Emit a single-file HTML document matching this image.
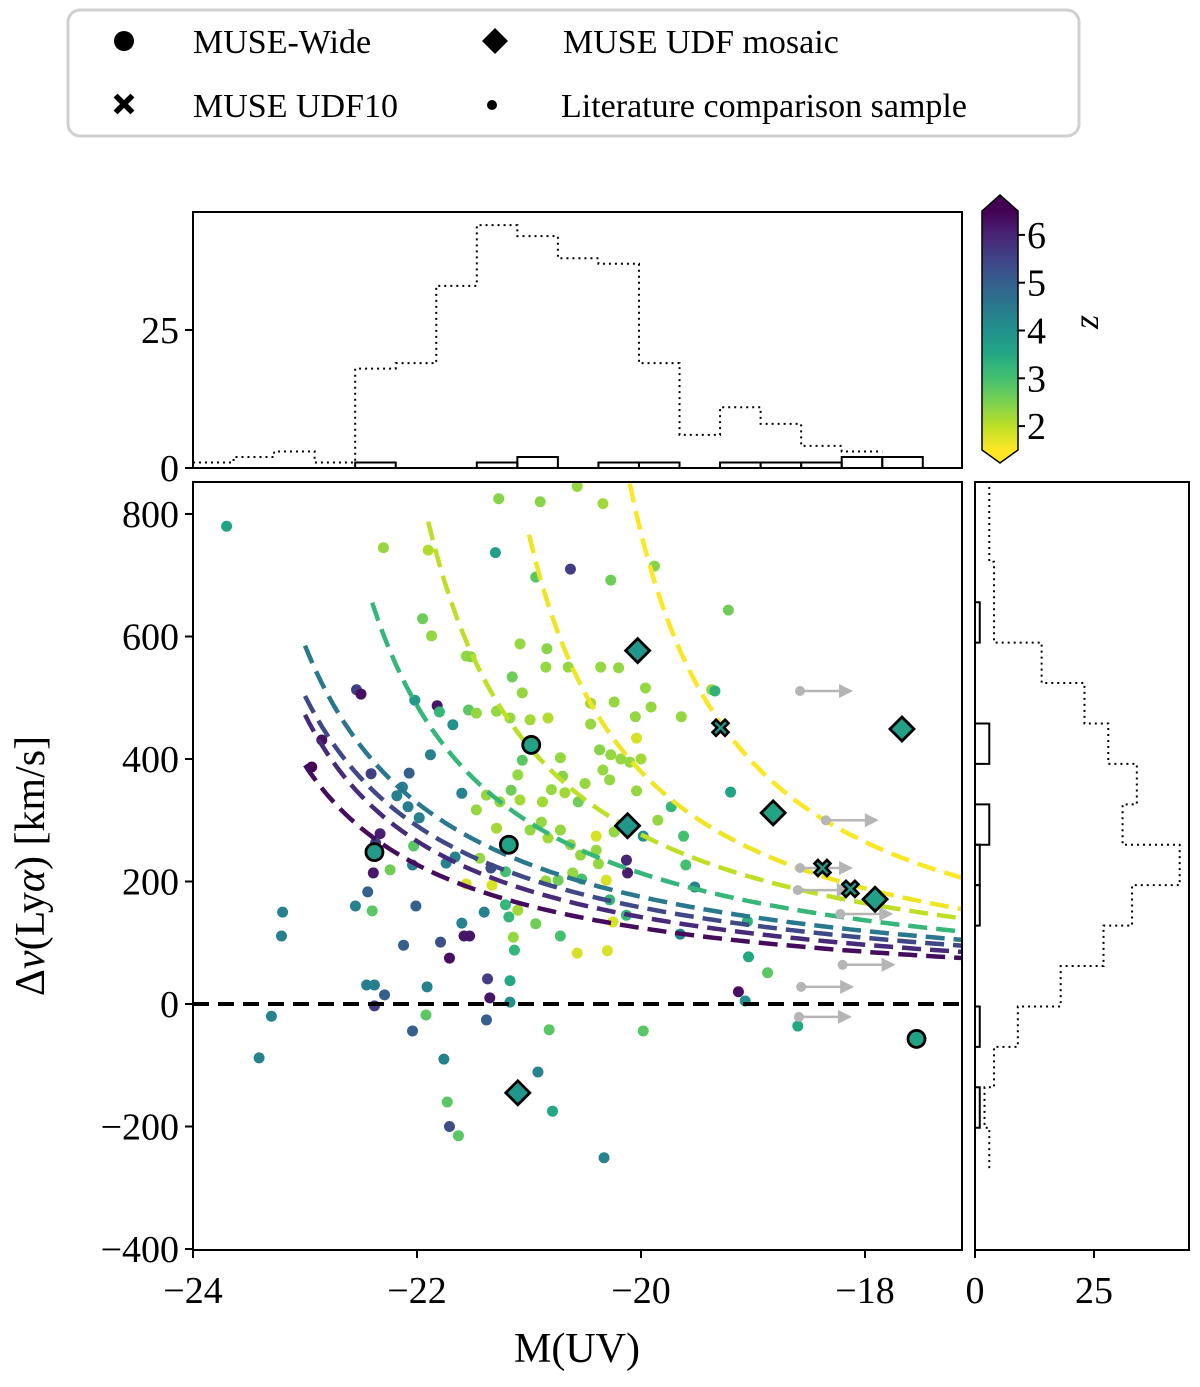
<!DOCTYPE html>
<html><head><meta charset="utf-8"><style>
body{margin:0;background:#fff}
svg text{font-family:"Liberation Serif",serif;fill:#000}
</style></head><body>
<svg id="c" width="1200" height="1382" viewBox="0 0 1200 1382" xmlns="http://www.w3.org/2000/svg">
<g>
<rect x="68" y="10" width="1011" height="126" rx="12" fill="#fff" stroke="#d0d0d0" stroke-width="3"/>
<circle cx="124" cy="41" r="10" fill="#000"/>
<text x="193" y="53" font-size="34">MUSE-Wide</text>
<path d="M495 28 L508 41 L495 54 L482 41 Z" fill="#000"/>
<text x="563" y="53" font-size="34">MUSE UDF mosaic</text>
<path d="M115 97.5 L117.5 95 L124 101.5 L130.5 95 L133 97.5 L126.5 104 L133 110.5 L130.5 113 L124 106.5 L117.5 113 L115 110.5 L121.5 104 Z" fill="#000" stroke="#000" stroke-width="2"/>
<text x="193" y="117" font-size="34">MUSE UDF10</text>
<circle cx="492" cy="105" r="5" fill="#000"/>
<text x="561" y="117" font-size="34">Literature comparison sample</text>
</g>
<g id="main"></g>
</svg>
<script>
// ---- data ----
const litM = [-23.7,-22.3,-21.9,-21.27,-20.9,-20.57,-20.34,-21.3,-20.63,-20.94,
-20.27,-19.88,-19.22,-21.95,-21.87,-21.56,-21.52,-21.08,-20.84,-20.65,
-21.15,-22.54,-22.5,-22.02,-21.82,-22.85,-22.94,-22.41,-22.07,-21.88,
-21.68,-21.8,-21.54,-21.47,-21.29,-21.17,-20.99,-20.83,-21.06,-20.85,
-20.45,-20.24,-20.36,-20.2,-19.96,-19.91,-20.05,-19.64,-19.37,-20.45,
-20.37,-20.27,-20.18,-20.1,-20.0,-20.34,-20.28,-20.04,-20.04,-20.72,
-20.7,-20.56,-20.5,-20.68,-20.88,-20.8,-21.06,-21.1,-21.16,-21.08,
-21.38,-21.26,-21.47,-21.29,-20.99,-20.89,-20.83,-20.72,-20.63,-20.54,
-20.38,-20.4,-20.24,-20.13,-20.12,-19.98,-19.73,-19.62,-19.6,-19.2,
-19.85,-21.6,-22.13,-22.18,-22.08,-21.98,-22.33,-22.37,-22.39,-22.44,
-22.4,-22.55,-22.24,-22.03,-22.04,-21.74,-21.66,-21.56,-21.44,-21.34,
-21.33,-21.21,-21.21,-21.18,-21.1,-21.14,-20.94,-20.85,-20.74,-20.61,
-20.53,-20.4,-20.31,-20.28,-20.13,-20.25,-20.3,-20.57,-20.72,-21.13,
-21.4,-21.53,-21.58,-21.71,-21.79,-21.6,-22.01,-22.12,-21.91,-22.04,
-21.92,-22.38,-22.45,-22.38,-22.29,-23.2,-23.21,-23.3,-23.41,-21.76,
-21.73,-21.71,-21.63,-21.37,-21.35,-21.17,-21.17,-21.38,-20.92,-20.79,
-20.82,-20.33,-19.98,-19.65,-19.52,-19.34,-19.04,-19.05,-18.87,-19.13,
-19.07,-18.6];
const litV = [780,745,741,825,820,845,817,737,710,697,
692,715,643,629,601,568,567,588,580,550,
534,513,506,496,487,431,387,376,377,407,
456,477,480,475,478,467,464,467,508,550,
491,493,550,549,516,485,469,469,513,457,
415,407,400,395,400,382,366,348,434,402,
372,330,360,345,330,350,398,374,349,333,
341,330,317,287,284,297,271,284,260,243,
229,274,281,235,214,274,322,274,227,346,
300,344,354,340,322,304,278,263,214,183,
152,160,219,258,227,230,240,196,238,222,
194,216,162,142,153,109,131,201,202,214,
204,251,202,170,145,134,87,83,111,88,
150,111,111,75,101,132,160,96,28,-44,
-18,31,31,-3,15,150,111,-20,-88,-90,
-160,-200,-215,41,10,38,3,-26,-111,-175,
-42,-251,-44,114,191,511,77,135,51,20,
5,-36];
const litZ = [3.6,2.3,2.1,2.4,2.4,2.3,2.2,3.7,5.6,2.8,
2.6,2.4,2.6,2.6,2.3,2.3,2.4,2.3,2.4,2.3,
2.6,5.6,6.3,3.8,6.2,6.3,6.5,5.6,5.0,4.3,
4.0,3.2,2.8,2.3,2.3,2.3,2.2,2.1,2.3,2.3,
2.2,2.3,2.3,2.3,2.3,2.3,2.3,2.3,2.3,2.3,
2.4,2.3,2.3,2.3,2.2,2.3,2.3,2.3,1.8,2.3,
2.4,2.6,2.3,2.2,2.2,2.3,2.8,2.3,2.6,2.2,
2.3,2.3,2.3,2.2,2.3,2.3,2.2,2.3,2.3,2.3,
2.3,1.8,2.3,6.0,6.1,4.0,3.2,3.0,3.0,3.6,
2.3,4.3,4.4,4.3,4.4,4.3,6.1,5.6,6.2,5.0,
2.8,4.3,2.6,2.8,4.4,4.3,4.3,1.8,2.3,5.3,
1.8,3.0,3.2,3.2,2.2,2.3,2.6,2.3,2.6,2.3,
3.0,2.3,1.8,3.2,3.2,1.8,1.8,1.8,3.0,3.2,
4.3,6.2,6.2,6.3,5.3,4.3,5.0,5.0,4.3,5.0,
2.8,4.4,4.4,5.6,5.0,4.3,4.3,4.3,4.3,4.3,
2.8,5.3,2.8,5.6,6.2,3.5,4.0,5.0,4.3,3.5,
2.8,4.3,2.8,4.3,4.3,3.3,3.5,3.3,2.8,6.3,
4.0,3.5];
const wideM = [-22.38,-21.18,-20.98,-17.54];
const wideV = [248,260,423,-57];
const wideZ = [3.8,3.6,3.6,3.6];
const mosM = [-20.03,-20.12,-18.82,-17.67,-17.91,-21.1];
const mosV = [577,291,312,449,171,-145];
const mosZ = [3.9,3.9,3.6,3.7,3.7,3.9];
const udf10M = [-19.29,-18.38,-18.13];
const udf10V = [451,222,188];
const udf10Z = [3.9,3.8,3.8];
const limM = [-18.58,-18.35,-18.58,-18.6,-18.22,-18.2,-18.57,-18.59];
const limV = [511,300,222,186,147,64,28,-21];
// model curves: v = c / (M - Ma)
const curveMa = [-24.40,-24.29,-24.37,-24.28,-23.56,-22.93,-21.98,-21.05];
const curveC = [546,609,689,749,760,811,751,807];
const curveStart = [-23.0,-23.0,-23.0,-23.0,-22.4,-21.9,-21.0,-20.1];
const curveZ = [6.35,5.9,5.4,4.5,3.2,2.0,1.6,1.5];
// histograms
const topEdges = [-24,-23.638,-23.276,-22.914,-22.552,-22.19,-21.828,-21.466,-21.104,-20.742,-20.38,-20.018,-19.656,-19.294,-18.932,-18.57,-18.208,-17.846,-17.484,-17.122];
const topLit = [1,2,3,1,18,19,33,44,42,38,37,19,6,11,8,4,3];
const topMuse = [0,0,0,0,1,0,0,1,2,0,1,1,0,1,1,1,2,2,0];
const rightEdges = [-400,-334,-268,-202,-136,-70,-4,62,128,194,260,326,392,458,524,590,656,722,788,854];
const rightLit = [0,0,3,2,4,9,18,27,33,43,31,34,28,23,14,4,4,3,3];
const rightMuse = [0,0,0,1,0,1,0,0,1,1,3,0,3,0,0,1,0,0,0];
const xTicks = [-24,-22,-20,-18];
const yTicks = [-400,-200,0,200,400,600,800];
const zTicks = [2,3,4,5,6];

// ---- scales ----
const X0=193,X1=962,Y0=482,Y1=1250;
const xs = m => X0 + (m+24)*112;
const ys = v => 1004 - v*0.6125;
const hy = n => 468 - n*5.52;
const hx = n => 975 + n*4.76;
const Z0=1.5,Z1=6.5;
const czs = z => 450 - (z-Z0)*(239/5);
const stops=["#440154","#482475","#414487","#355f8d","#2a788e","#21918c","#22a884","#44bf70","#7ad151","#bddf26","#fde725"];
function hex(h){return [1,3,5].map(i=>parseInt(h.substr(i,2),16));}
function col(z){let t=(Z1-z)/(Z1-Z0);if(!isFinite(t))t=0.5;t=Math.max(0,Math.min(1,t));const p=t*10,i=Math.min(9,Math.floor(p)),f=p-i;const a=hex(stops[i]),b=hex(stops[i+1]);return 'rgb('+a.map((v,k)=>Math.round(v+(b[k]-v)*f)).join(',')+')';}

const NS="http://www.w3.org/2000/svg";
const root=document.getElementById('main');
function mk(tag,attrs,parent){const e=document.createElementNS(NS,tag);for(const k in attrs)e.setAttribute(k,attrs[k]);(parent||root).appendChild(e);return e;}
function txt(s,x,y,size,anchor,parent){const t=mk('text',{x:x,y:y,'font-size':size,'text-anchor':anchor||'middle'},parent);t.textContent=s;return t;}
const fmt=v=>v<0?'\u2212'+Math.abs(v):String(v);

const defs=mk('defs',{});
const cp=mk('clipPath',{id:'clipMain'},defs);
mk('rect',{x:X0,y:Y0,width:X1-X0,height:Y1-Y0},cp);
const grad=mk('linearGradient',{id:'cbg',x1:0,y1:1,x2:0,y2:0},defs);
for(let i=0;i<=20;i++){mk('stop',{offset:i/20,'stop-color':col(Z0+(Z1-Z0)*i/20)},grad);}

// ---- main scatter ----
const gm=mk('g',{'clip-path':'url(#clipMain)'});


const nLit=Math.min(litM.length,litV.length,litZ.length);
for(let i=0;i<nLit;i++){
  const c=mk('circle',{cx:xs(litM[i]),cy:ys(litV[i]),r:5.5,fill:col(litZ[i])},gm);
  
  
}
for(let k=0;k<curveMa.length;k++){
  let d='';
  for(let m=curveStart[k];m<=-17.0;m+=0.05){const v=curveC[k]/(m-curveMa[k]);d+=(d?'L':'M')+xs(m).toFixed(1)+' '+ys(v).toFixed(1);}
  const p=mk('path',{d:d,fill:'none',stroke:col(curveZ[k]),'stroke-width':4.5,'stroke-dasharray':'19 9'},gm);
  
  
}
const zl=mk('line',{x1:X0,x2:X1,y1:ys(0),y2:ys(0),stroke:'#000','stroke-width':4,'stroke-dasharray':'16 9'},gm);


for(let i=0;i<limM.length;i++){
  const x=xs(limM[i]),y=ys(limV[i]),x2=x+53;
  const g=mk('g',{},gm);
  
  
  mk('line',{x1:x,x2:x2-12,y1:y,y2:y,stroke:'#b5b5b5','stroke-width':2.5},g);
  mk('path',{d:`M${x2-14} ${y-7}L${x2} ${y}L${x2-14} ${y+7}Z`,fill:'#b5b5b5'},g);
  mk('circle',{cx:x,cy:y,r:5,fill:'#b5b5b5'},g);
}
for(let i=0;i<wideM.length;i++){
  const c=mk('circle',{cx:xs(wideM[i]),cy:ys(wideV[i]),r:8.5,fill:col(wideZ[i]),stroke:'#000','stroke-width':2.8},gm);
  
  
}
for(let i=0;i<mosM.length;i++){
  const x=xs(mosM[i]),y=ys(mosV[i]),s=12;
  const p=mk('path',{d:`M${x} ${y-s}L${x+s} ${y}L${x} ${y+s}L${x-s} ${y}Z`,fill:col(mosZ[i]),stroke:'#000','stroke-width':2.8},gm);
  
  
}
for(let i=0;i<udf10M.length;i++){
  const x=xs(udf10M[i]),y=ys(udf10V[i]);
  const a=3.5,b=8;
  const d=`M${x-b} ${y-b+a}L${x-b+a} ${y-b}L${x} ${y-a}L${x+b-a} ${y-b}L${x+b} ${y-b+a}L${x+a} ${y}L${x+b} ${y+b-a}L${x+b-a} ${y+b}L${x} ${y+a}L${x-b+a} ${y+b}L${x-b} ${y+b-a}L${x-a} ${y}Z`;
  const p=mk('path',{d:d,fill:col(udf10Z[i]),stroke:'#000','stroke-width':2.6},gm);
  
  
}
const fr=mk('rect',{x:X0,y:Y0,width:X1-X0,height:Y1-Y0,fill:'none',stroke:'#000','stroke-width':2});


for(const t of xTicks){
  mk('line',{x1:xs(t),x2:xs(t),y1:Y1,y2:Y1+8,stroke:'#000','stroke-width':2});
  const e=txt(fmt(t),xs(t),1303,38);
  
  
}
for(const t of yTicks){
  mk('line',{x1:X0-8,x2:X0,y1:ys(t),y2:ys(t),stroke:'#000','stroke-width':2});
  const e=txt(fmt(t),X0-14,ys(t)+13,38,'end');
  
  
}
const xl=txt('M(UV)',577,1362,42);


const yl=mk('text',{x:0,y:0,'font-size':42,'text-anchor':'middle',transform:'translate(44 866) rotate(-90)'});


[['\u0394',''],['v','italic'],['(Ly',''],['\u03b1','italic'],[') [km/s]','']].forEach(([s,st])=>{const ts=mk('tspan',st?{'font-style':st}:{},yl);ts.textContent=s;});

// ---- top histogram ----
let dTop='';
for(let i=0;i<topLit.length;i++){const y=hy(topLit[i]);dTop+=(dTop?'L':'M')+xs(topEdges[i])+' '+y+'L'+xs(topEdges[i+1])+' '+y;}
const th1=mk('path',{d:dTop,fill:'none',stroke:'#000','stroke-width':2,'stroke-dasharray':'2 4'});


for(let i=0;i<topMuse.length;i++){ if(!topMuse[i]) continue;
  const r=mk('path',{d:`M${xs(topEdges[i])} 468L${xs(topEdges[i])} ${hy(topMuse[i])}L${xs(topEdges[i+1])} ${hy(topMuse[i])}L${xs(topEdges[i+1])} 468`,fill:'none',stroke:'#000','stroke-width':2});
  
  
}
const tf=mk('rect',{x:X0,y:212,width:X1-X0,height:256,fill:'none',stroke:'#000','stroke-width':2});


for(const t of [0,25]){
  mk('line',{x1:X0-8,x2:X0,y1:hy(t),y2:hy(t),stroke:'#000','stroke-width':2});
  const e=txt(String(t),X0-14,hy(t)+13,38,'end');
  
  
}

// ---- right histogram ----
let dR='';
for(let i=2;i<rightLit.length;i++){const x=hx(rightLit[i]);dR+=(dR?'L':'M')+x+' '+ys(rightEdges[i])+'L'+x+' '+ys(rightEdges[i+1]);}
const rh1=mk('path',{d:dR,fill:'none',stroke:'#000','stroke-width':2,'stroke-dasharray':'2 4'});


for(let i=0;i<rightMuse.length;i++){ if(!rightMuse[i]) continue;
  const y0=ys(rightEdges[i]),y1=ys(rightEdges[i+1]);
  const r=mk('path',{d:`M975 ${y0}L${hx(rightMuse[i])} ${y0}L${hx(rightMuse[i])} ${y1}L975 ${y1}`,fill:'none',stroke:'#000','stroke-width':2});
  
  
}
const rf=mk('rect',{x:975,y:Y0,width:214,height:Y1-Y0,fill:'none',stroke:'#000','stroke-width':2});


for(const t of [0,25]){
  mk('line',{x1:hx(t),x2:hx(t),y1:Y1,y2:Y1+8,stroke:'#000','stroke-width':2});
  const e=txt(String(t),hx(t),1303,38);
  
  
}

// ---- colorbar ----
const cb=mk('g',{});


mk('rect',{x:982,y:czs(Z1),width:36,height:czs(Z0)-czs(Z1),fill:'url(#cbg)'},cb);
mk('path',{d:`M982 ${czs(Z1)}L1000 ${czs(Z1)-16}L1018 ${czs(Z1)}Z`,fill:col(Z1)},cb);
mk('path',{d:`M982 ${czs(Z0)}L1000 ${czs(Z0)+13}L1018 ${czs(Z0)}Z`,fill:col(Z0)},cb);
mk('path',{d:`M982 ${czs(Z1)}L1000 ${czs(Z1)-16}L1018 ${czs(Z1)}L1018 ${czs(Z0)}L1000 ${czs(Z0)+13}L982 ${czs(Z0)}Z`,fill:'none',stroke:'#000','stroke-width':1.5},cb);
for(const t of zTicks){
  mk('line',{x1:1018,x2:1025,y1:czs(t),y2:czs(t),stroke:'#000','stroke-width':2},cb);
  const e=txt(String(t),1027,czs(t)+13,38,'start',cb);
  
  
}
const zt=txt('z',0,0,36,'middle',cb);
zt.setAttribute('transform','translate(1098 322) rotate(-90)');
zt.setAttribute('font-style','italic');


</script>
</body></html>
